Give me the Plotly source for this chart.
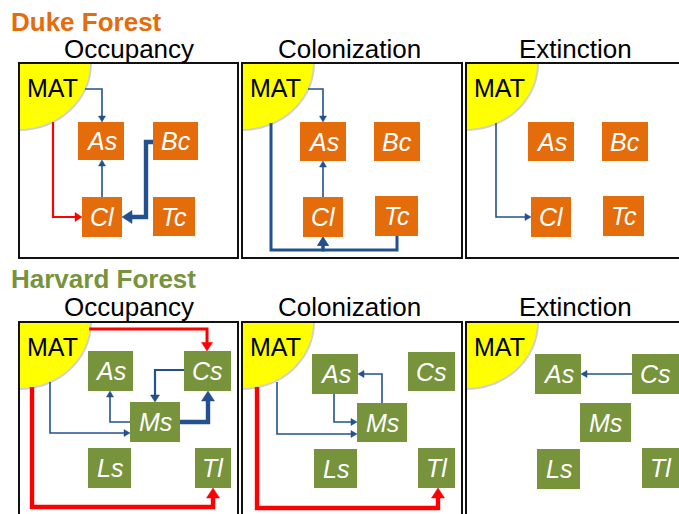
import plotly.graph_objects as go

W, H = 679, 514

# ---------------- data ----------------
sites = ["Duke Forest", "Harvard Forest"]
processes = ["Occupancy", "Colonization", "Extinction"]
driver = "MAT"
duke_species = ["As", "Bc", "Cl", "Tc"]
harvard_species = ["As", "Cs", "Ms", "Ls", "Tl"]

# effects: (process, source, target, sign, strength); sign +1 -> red, -1 -> blue
duke_effects = [
    ("Occupancy", "MAT", "As", -1, 1),
    ("Occupancy", "MAT", "Cl", +1, 2),
    ("Occupancy", "Cl", "As", -1, 1),
    ("Occupancy", "Bc", "Cl", -1, 4),
    ("Colonization", "MAT", "As", -1, 1),
    ("Colonization", "Cl", "As", -1, 1),
    ("Colonization", "MAT", "Cl", -1, 3),
    ("Colonization", "Tc", "Cl", -1, 3),
    ("Extinction", "MAT", "Cl", -1, 1),
]
harvard_effects = [
    ("Occupancy", "MAT", "Cs", +1, 3),
    ("Occupancy", "MAT", "Tl", +1, 4),
    ("Occupancy", "MAT", "Ms", -1, 1),
    ("Occupancy", "Ms", "As", -1, 1),
    ("Occupancy", "Cs", "Ms", -1, 2),
    ("Occupancy", "Ms", "Cs", -1, 4),
    ("Colonization", "MAT", "Tl", +1, 4),
    ("Colonization", "MAT", "Ms", -1, 1),
    ("Colonization", "As", "Ms", -1, 1),
    ("Colonization", "Ms", "As", -1, 1),
    ("Extinction", "Cs", "As", -1, 1),
]

# ---------------- styles / layout ----------------
FONT = "Liberation Sans, Arial, sans-serif"
ORANGE = "#E46C0A"
GREEN = "#77933C"
BLUE = "#23508E"
RED = "#FF0000"
YELLOW = "#FFFF00"
site_color = {"Duke Forest": ORANGE, "Harvard Forest": GREEN}
site_species = {"Duke Forest": duke_species, "Harvard Forest": harvard_species}
site_effects = {"Duke Forest": duke_effects, "Harvard Forest": harvard_effects}

site_title_pos = {"Duke Forest": (9, 22), "Harvard Forest": (9, 279)}
proc_title_x = [129, 349, 575]
proc_title_y = {"Duke Forest": 49, "Harvard Forest": 307}
panel_x = [(19, 238), (242, 462), (466, 700)]
panel_y = {"Duke Forest": (63, 258), "Harvard Forest": (322, 530)}

# node boxes (cx, cy, w, h) per panel
node_box = {
    ("Duke Forest", 0): {"As": (101, 141, 46, 38), "Bc": (175.5, 141, 45, 38),
                         "Cl": (102, 217, 40, 40), "Tc": (174, 216.5, 42, 39)},
    ("Duke Forest", 1): {"As": (323, 141.5, 46, 39), "Bc": (397, 141.5, 46, 39),
                         "Cl": (323, 217, 40, 40), "Tc": (396.5, 216, 43, 40)},
    ("Duke Forest", 2): {"As": (551, 141.5, 46, 39), "Bc": (625, 141.5, 46, 39),
                         "Cl": (551, 217, 40, 40), "Tc": (623.5, 216, 41, 40)},
    ("Harvard Forest", 0): {"As": (110.5, 371, 45, 40), "Cs": (207.5, 371, 47, 40),
                            "Ms": (155, 422, 50, 40), "Ls": (109.5, 468, 43, 40),
                            "Tl": (213, 468, 36, 40)},
    ("Harvard Forest", 1): {"As": (335, 374, 46, 40), "Cs": (431.5, 371.5, 47, 39),
                            "Ms": (382, 422.5, 50, 39), "Ls": (335.5, 468.5, 43, 39),
                            "Tl": (436.5, 468, 37, 40)},
    ("Harvard Forest", 2): {"As": (558, 374, 46, 40), "Cs": (655.5, 374, 47, 40),
                            "Ms": (605.5, 422.5, 51, 39), "Ls": (558.5, 469, 43, 40),
                            "Tl": (660.5, 468, 37, 40)},
}

# connector routing (pixel waypoints)
routes = {
    ("Duke Forest", "Occupancy", "MAT", "As"): [(85, 89), (102, 89), (102, 122)],
    ("Duke Forest", "Occupancy", "MAT", "Cl"): [(53, 122), (53, 217), (82, 217)],
    ("Duke Forest", "Occupancy", "Cl", "As"): [(102, 197), (102, 160)],
    ("Duke Forest", "Occupancy", "Bc", "Cl"): [(153, 142), (146, 142), (146, 217), (122, 217)],
    ("Duke Forest", "Colonization", "MAT", "As"): [(308, 89), (323, 89), (323, 122)],
    ("Duke Forest", "Colonization", "Cl", "As"): [(323, 197), (323, 161)],
    ("Duke Forest", "Colonization", "MAT", "Cl"): [(271, 123), (271, 250), (323, 250), (323, 237)],
    ("Duke Forest", "Colonization", "Tc", "Cl"): [(397, 236), (397, 250), (323, 250), (323, 237)],
    ("Duke Forest", "Extinction", "MAT", "Cl"): [(496, 123), (496, 217), (531, 217)],
    ("Harvard Forest", "Occupancy", "MAT", "Cs"): [(89, 329), (207, 329), (207, 351)],
    ("Harvard Forest", "Occupancy", "MAT", "Tl"): [(32, 387), (32, 507), (213, 507), (213, 488)],
    ("Harvard Forest", "Occupancy", "MAT", "Ms"): [(50, 382), (50, 433), (130, 433)],
    ("Harvard Forest", "Occupancy", "Ms", "As"): [(130, 422), (110, 422), (110, 391)],
    ("Harvard Forest", "Occupancy", "Cs", "Ms"): [(184, 370), (155, 370), (155, 402)],
    ("Harvard Forest", "Occupancy", "Ms", "Cs"): [(180, 422), (208, 422), (208, 391)],
    ("Harvard Forest", "Colonization", "MAT", "Tl"): [(257, 387), (257, 508), (438, 508), (438, 488)],
    ("Harvard Forest", "Colonization", "MAT", "Ms"): [(277, 382), (277, 434), (357, 434)],
    ("Harvard Forest", "Colonization", "As", "Ms"): [(334, 394), (334, 422), (357, 422)],
    ("Harvard Forest", "Colonization", "Ms", "As"): [(382, 403), (382, 374), (358, 374)],
    ("Harvard Forest", "Extinction", "Cs", "As"): [(632, 374), (581, 374)],
}

line_width = {1: 1.6, 2: 2.2, 3: 3.0, 4: 4.4}
head_size = {1: (6, 3.5), 2: (7, 4.5), 3: (8.5, 5.5), 4: (10, 6.5)}

shapes = []
annotations = []


def path_from(points, close=False):
    s = "M " + " L ".join(f"{x:.2f},{y:.2f}" for x, y in points)
    return s + (" Z" if close else "")


def add_arrow(points, color, strength):
    lw = line_width[strength]
    L, hw = head_size[strength]
    (x0, y0), (x1, y1) = points[-2], points[-1]
    dx, dy = x1 - x0, y1 - y0
    n = (dx * dx + dy * dy) ** 0.5
    ux, uy = dx / n, dy / n
    bx, by = x1 - ux * (L - 1), y1 - uy * (L - 1)
    pts = points[:-1] + [(bx, by)]
    shapes.append(dict(type="path", path=path_from(pts), line=dict(color=color, width=lw),
                       layer="above"))
    px, py = -uy, ux
    bx2, by2 = x1 - ux * L, y1 - uy * L
    tri = [(x1, y1), (bx2 + px * hw, by2 + py * hw), (bx2 - px * hw, by2 - py * hw)]
    shapes.append(dict(type="path", path=path_from(tri, close=True), fillcolor=color,
                       line=dict(color=color, width=0.5), layer="above"))


k = 0.5523
for site in sites:
    y0, y1 = panel_y[site]
    col = site_color[site]
    tx, ty = site_title_pos[site]
    annotations.append(dict(x=tx, y=ty, xref="x", yref="y", xanchor="left", yanchor="middle",
                            text=f"<b>{site}</b>", showarrow=False,
                            font=dict(family=FONT, size=26, color=col)))
    for i, proc in enumerate(processes):
        xa, xb = panel_x[i]
        annotations.append(dict(x=proc_title_x[i], y=proc_title_y[site], xref="x", yref="y",
                                xanchor="center", yanchor="middle", text=proc, showarrow=False,
                                font=dict(family=FONT, size=26, color="black")))
        # MAT quarter disc (with soft shadow)
        rx, ry = 71, 66
        for off, fc in [(2.0, "rgba(120,120,120,0.35)"), (0, YELLOW)]:
            qx, qy = xa, y0
            pts = (f"M {qx},{qy} L {qx + rx + off},{qy} "
                   f"C {qx + rx + off},{qy + k * (ry + off)} {qx + k * (rx + off)},{qy + ry + off} "
                   f"{qx},{qy + ry + off} Z")
            shapes.append(dict(type="path", path=pts, fillcolor=fc, line=dict(width=0),
                               layer="above"))
        annotations.append(dict(x=xa + 33, y=y0 + 25, xref="x", yref="y", text=driver,
                                showarrow=False, xanchor="center", yanchor="middle",
                                font=dict(family=FONT, size=25, color="black")))
        # panel border
        shapes.append(dict(type="rect", x0=xa, x1=xb, y0=y0, y1=y1,
                           line=dict(color="#111111", width=2), fillcolor="rgba(0,0,0,0)",
                           layer="above"))
        # species nodes
        boxes = node_box[(site, i)]
        for sp in site_species[site]:
            cx, cy, w, h = boxes[sp]
            shapes.append(dict(type="rect", x0=cx - w / 2, x1=cx + w / 2, y0=cy - h / 2,
                               y1=cy + h / 2, fillcolor=col, line=dict(width=0), layer="above"))
            annotations.append(dict(x=cx, y=cy, xref="x", yref="y", text=f"<i>{sp}</i>",
                                    showarrow=False, xanchor="center", yanchor="middle",
                                    font=dict(family=FONT, size=25, color="white")))
        # effects
        for (p, src, tgt, sign, strength) in site_effects[site]:
            if p != proc:
                continue
            color = RED if sign > 0 else BLUE
            add_arrow(list(routes[(site, p, src, tgt)]), color, strength)

fig = go.Figure()
fig.add_trace(go.Scatter(x=[0], y=[0], mode="markers", marker=dict(opacity=0),
                         hoverinfo="skip", showlegend=False))
fig.update_layout(
    width=W, height=H, margin=dict(l=0, r=0, t=0, b=0),
    paper_bgcolor="white", plot_bgcolor="white",
    xaxis=dict(range=[0, W], visible=False, fixedrange=True),
    yaxis=dict(range=[H, 0], visible=False, fixedrange=True),
    shapes=shapes, annotations=annotations, showlegend=False,
)
fig.write_html("out.html", config={"displayModeBar": False},
               post_script="document.body.style.margin='0px';document.body.style.overflow='hidden';")
